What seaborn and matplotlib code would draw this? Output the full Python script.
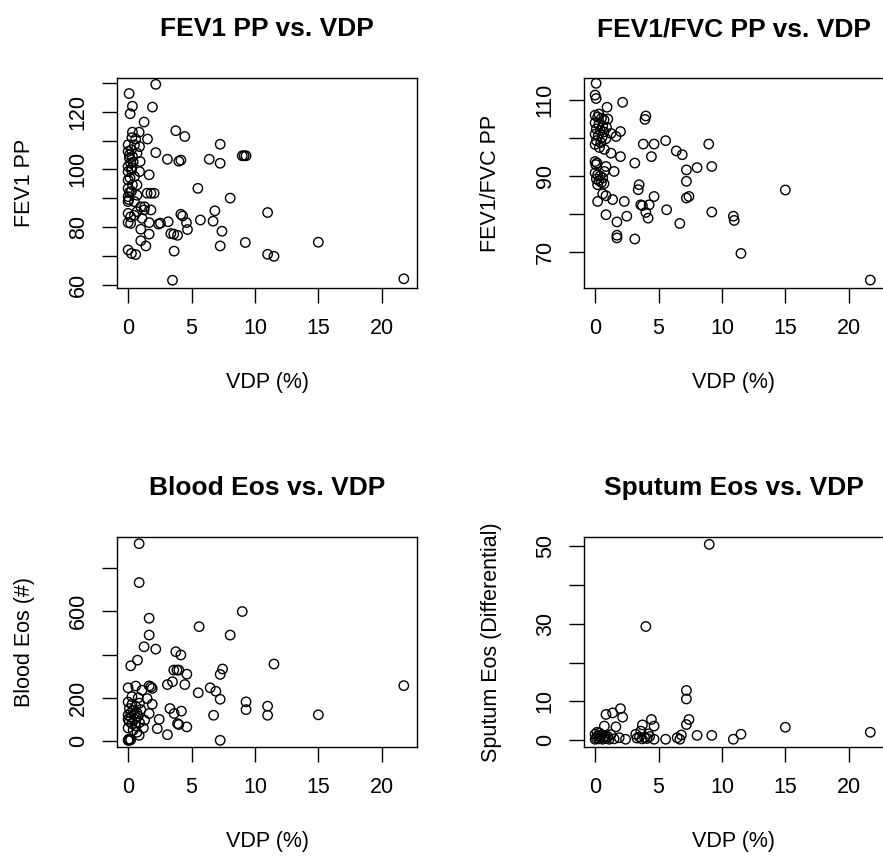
import matplotlib
matplotlib.use("Agg")
import matplotlib.pyplot as plt
import seaborn as sns

sns.set_theme(style="white")
plt.rcParams['font.family'] = ['Liberation Sans', 'DejaVu Sans']
plt.rcParams['text.color'] = 'black'
plt.rcParams['axes.labelcolor'] = 'black'

# FEV1 PP vs VDP
fev1_vdp = [0.0, 0.0, 0.1, 0.0, 0.0, 0.0, 0.0, 0.0, 0.0, 0.0, 0.0, 0.2, 0.5, 0.7, 1.0, 1.3,
            0.7, 0.7, 0.9, 0.95, 0.7, 0.9, 0.5, 0.26, 0.34, 0.2, 0.26, 0.5, 0.34, 0.26, 0.5,
            1.26, 1.8, 1.1, 0.2, 0.1, 0.15, 0.1, 0.05, 0.3, 0.4, 0.6, 0.3,
            2.18, 0.08, 0.34, 0.16, 1.92, 1.26, 0.34, 0.87, 3.76, 4.47, 1.53, 7.26, 2.18,
            3.1, 4.0, 4.16, 6.4, 7.26, 9.0, 9.15, 9.3, 1.66, 5.5, 8.05, 1.5, 1.8, 2.05,
            11.0, 6.84, 4.16, 4.3, 4.6, 5.7, 6.7, 3.16, 2.4, 2.55, 1.66, 4.68, 7.4, 3.37,
            3.6, 3.9, 1.0, 1.66, 1.0, 1.4, 7.26, 9.24, 3.63, 0.0, 0.26, 0.6, 11.0, 11.5,
            3.5, 15.0, 21.74]
fev1_pp = [108.5, 106.2, 103.9, 101.0, 99.2, 96.3, 93.4, 90.5, 88.8, 84.7, 81.5, 83.5, 84.0,
           85.3, 87.0, 87.0, 91.0, 94.6, 99.2, 102.7, 105.6, 107.9, 108.5, 106.8, 104.5, 102.1,
           99.8, 97.5, 94.6, 92.3, 88.8, 85.9, 85.9, 83.0, 81.2, 105.0, 97.0, 92.0, 89.5, 100.5,
           102.5, 110.5, 111.0,
           129.5, 126.3, 121.9, 119.3, 121.6, 116.4, 112.9, 112.9, 113.4, 111.4, 110.5, 108.7,
           105.8, 103.5, 102.8, 103.2, 103.5, 102.1, 104.7, 104.7, 104.7, 98.1, 93.4, 90.0,
           91.7, 91.7, 91.7, 85.0, 85.6, 84.4, 83.8, 81.5, 82.4, 82.0, 81.8, 81.0, 81.3, 81.5,
           79.1, 78.5, 77.7, 77.5, 77.1, 79.2, 77.5, 75.2, 73.4, 73.4, 74.6, 71.6, 72.0, 70.8,
           70.4, 70.5, 69.8, 61.5, 74.7, 62.0]

# FEV1/FVC PP vs VDP
ratio_vdp = [0.08, 0.0, 0.08, 0.94, 2.17, 4.0, 3.93, 2.0, 1.65, 1.25, 3.8, 4.65, 5.56, 6.4,
             6.87, 8.96, 4.44, 2.0, 1.25, 0.73, 0.34, 3.13, 0.0, 0.15, 8.04, 7.2, 9.2, 0.86,
             0.73, 1.5, 7.2, 3.47, 3.4, 4.65, 7.2, 7.4, 0.6, 0.86, 1.38, 2.3, 0.2, 3.6, 3.73,
             4.26, 5.64, 4.0, 4.18, 9.2, 10.9, 10.97, 0.86, 2.5, 1.72, 6.68, 1.72, 1.72, 3.13,
             11.5, 15.0, 21.7,
             0.0, 0.2, 0.5, 0.7, 0.0, 0.3, 0.6, 0.9, 0.1, 0.4, 0.7, 0.0, 0.25, 0.55, 0.85, 0.1,
             0.45, 0.0, 0.3, 1.0,
             0.0, 0.2, 0.4, 0.6, 0.1, 0.3, 0.5, 0.7, 0.2, 0.05]
ratio_pp = [114.4, 111.3, 110.4, 108.1, 109.4, 105.8, 104.9, 101.7, 100.4, 101.2, 98.4, 98.4,
            99.3, 96.6, 95.6, 98.4, 95.1, 95.1, 96.0, 97.0, 97.5, 93.4, 93.8, 93.4, 92.2, 91.6,
            92.5, 92.5, 91.2, 91.2, 88.6, 87.7, 86.4, 84.6, 84.2, 84.6, 85.3, 84.8, 83.8, 83.3,
            83.3, 82.4, 82.2, 82.4, 81.1, 80.4, 78.9, 80.5, 79.4, 78.3, 79.8, 79.4, 77.9, 77.5,
            74.4, 73.7, 73.4, 69.6, 86.3, 62.6,
            106.0, 105.5, 105.2, 104.8, 104.0, 103.6, 103.2, 102.8, 102.4, 102.0, 101.6, 101.0,
            100.6, 100.2, 99.8, 99.3, 98.8, 98.3, 106.3, 105.0,
            90.8, 90.3, 90.0, 89.5, 89.2, 88.8, 88.3, 88.0, 87.7, 93.0]

# Blood Eos vs VDP
blood_vdp = [0.87, 0.87, 1.66, 1.66, 1.26, 2.18, 0.74, 0.21, 5.6, 9.0, 8.05, 11.5, 3.76, 4.16,
             3.6, 3.85, 4.0, 4.63, 7.45, 7.26, 3.1, 3.5, 4.47, 5.53, 6.47, 6.92, 7.26, 9.3, 9.3,
             11.0, 11.0, 6.74, 3.3, 3.63, 4.2, 3.9, 4.0, 4.63, 3.1, 7.26, 2.45, 2.3, 1.8, 1.66,
             1.9, 0.6, 0.0, 1.1, 1.5, 1.9, 1.66, 1.3, 0.87, 0.0, 0.1, 0.2, 0.05, 21.74, 15.0,
             0.0, 0.3, 0.6, 0.9, 0.1, 0.4, 0.7, 1.0, 0.0, 0.2, 0.5, 0.8, 0.1, 0.3, 0.6, 0.9,
             0.0, 0.4, 0.7, 1.2, 0.2, 0.5, 0.0, 0.3, 0.8]
blood_eos = [913, 733, 568, 490, 436, 425, 374, 348, 529, 599, 490, 356, 413, 398, 328, 328,
             328, 309, 333, 308, 261, 274, 261, 223, 246, 230, 193, 181, 145, 161, 119, 119,
             150, 127, 138, 80, 76, 65, 29, 3, 100, 57, 250, 255, 243, 254, 246, 235, 196, 170,
             127, 96, 26, 3, 3, 5, 8, 256, 121,
             180, 170, 160, 175, 150, 140, 130, 145, 120, 110, 100, 115, 90, 80, 70, 85, 60, 50,
             40, 60, 130, 125, 100, 205, 200]

# Sputum Eos vs VDP
sputum_vdp = [9.0, 4.0, 7.2, 7.2, 7.4, 7.2, 2.0, 1.38, 0.86, 2.17, 1.64, 0.73, 4.44, 4.65,
              3.73, 8.04, 9.2, 10.9, 11.5, 5.56, 6.47, 6.68, 6.8, 4.65, 2.4, 1.9, 3.2, 3.6,
              4.2, 15.0, 21.7,
              0.0, 0.1, 0.2, 0.3, 0.4, 0.5, 0.6, 0.7, 0.8, 0.9, 1.0, 1.1, 1.25, 0.0, 0.15,
              0.35, 3.3, 3.5, 3.7, 3.9, 4.1, 4.3, 1.5]
sputum_eos = [50.5, 29.3, 12.8, 10.6, 5.3, 4.0, 8.1, 7.0, 6.6, 5.9, 3.4, 3.6, 5.3, 3.6, 3.9,
              1.2, 1.2, 0.2, 1.5, 0.2, 0.6, 0.2, 1.3, 0.2, 0.2, 0.6, 1.5, 2.3, 1.6, 3.3, 2.0,
              0.2, 0.5, 1.0, 0.3, 0.8, 1.3, 0.2, 0.6, 1.1, 0.4, 0.9, 0.2, 1.4, 1.5, 2.0,
              1.8, 0.5, 0.8, 0.3, 0.6, 0.4, 0.9, 0.3]

x_ticks = [0, 5, 10, 15, 20]

panels = [
    dict(x=fev1_vdp, y=fev1_pp, title="FEV1 PP vs. VDP", ylabel="FEV1 PP",
         ylim=(58.8, 131.7), yticks=[60, 70, 80, 90, 100, 110, 120, 130],
         ylabels=["60", "", "80", "", "100", "", "120", ""],
         pos=[117, 78]),
    dict(x=ratio_vdp, y=ratio_pp, title="FEV1/FVC PP vs. VDP", ylabel="FEV1/FVC PP",
         ylim=(60.5, 115.8), yticks=[70, 80, 90, 100, 110],
         ylabels=["70", "", "90", "", "110"],
         pos=[584, 78]),
    dict(x=blood_vdp, y=blood_eos, title="Blood Eos vs. VDP", ylabel="Blood Eos (#)",
         ylim=(-28, 944), yticks=[0, 200, 400, 600, 800],
         ylabels=["0", "200", "", "600", ""],
         pos=[117, 537]),
    dict(x=sputum_vdp, y=sputum_eos, title="Sputum Eos vs. VDP",
         ylabel="Sputum Eos (Differential)",
         ylim=(-1.8, 52.4), yticks=[0, 10, 20, 30, 40, 50],
         ylabels=["0", "10", "", "30", "", "50"],
         pos=[584, 537]),
]

W, H = 883, 857
fig = plt.figure(figsize=(W / 100, H / 100), dpi=100)

for p in panels:
    left, top = p["pos"]
    ax = fig.add_axes([left / W, 1 - (top + 210) / H, 300 / W, 210 / H])
    sns.scatterplot(x=p["x"], y=p["y"], ax=ax, s=46, marker="o", linewidth=1)
    coll = ax.collections[-1]
    coll.set_facecolor("none")
    coll.set_edgecolor("black")
    coll.set_linewidth(1.0)

    ax.set_xlim(-0.876, 22.78)
    ax.set_ylim(*p["ylim"])
    ax.set_xticks(x_ticks)
    ax.set_xticklabels([str(t) for t in x_ticks])
    ax.set_yticks(p["yticks"])
    ax.set_yticklabels(p["ylabels"])

    for s in ax.spines.values():
        s.set_visible(True)
        s.set_color("black")
        s.set_linewidth(1.0)

    ax.tick_params(axis="both", direction="out", length=10.8, width=1.0,
                   colors="black", labelcolor="black", labelsize=15.5,
                   bottom=True, left=True)
    ax.tick_params(axis="x", pad=11)
    ax.tick_params(axis="y", pad=9.5, labelrotation=90)
    for lab in ax.get_yticklabels():
        lab.set_va("center")

    ax.set_title(p["title"], fontsize=19, fontweight="bold", pad=30, color="black")
    ax.set_xlabel("VDP (%)", fontsize=15.5, color="black")
    ax.set_ylabel(p["ylabel"], fontsize=15.5, color="black")
    ax.xaxis.label.set_va("center")
    ax.yaxis.label.set_va("center")
    ax.xaxis.set_label_coords(0.5, -0.45)
    ax.yaxis.set_label_coords(-0.31, 0.5)

fig.savefig("out.png", dpi=100, facecolor="white")
